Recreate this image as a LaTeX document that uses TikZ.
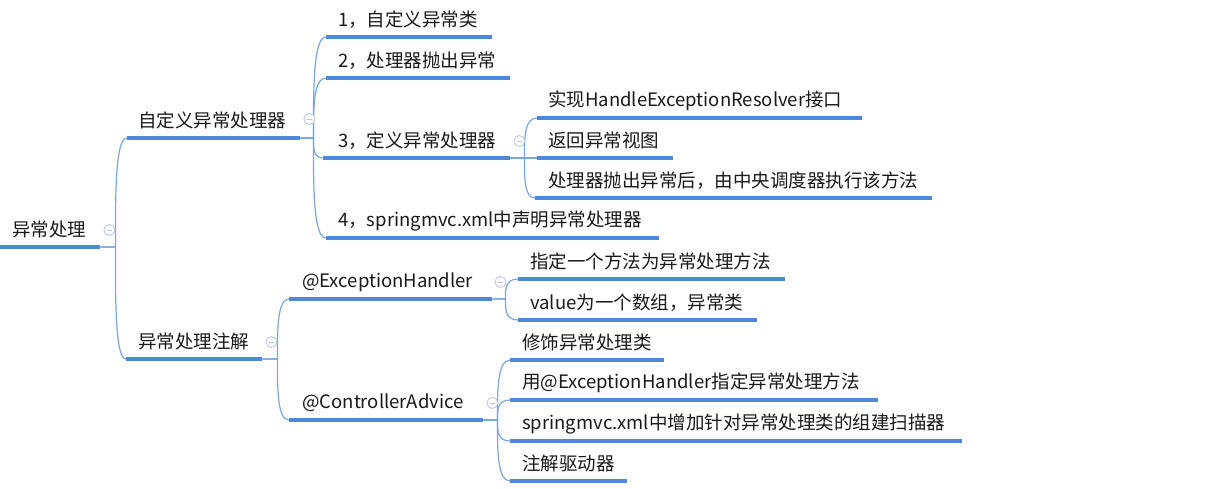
\documentclass[tikz,border=0pt]{standalone}
\usepackage{fontspec}
\setmainfont{Noto Sans CJK SC}
\usetikzlibrary{calc}
\definecolor{thickblue}{HTML}{4F88D6}
\definecolor{thinblue}{HTML}{7AA6E2}
\definecolor{txt}{HTML}{1A1A1A}
\definecolor{colgray}{HTML}{B9C3E0}
\tikzset{
 uline/.style={draw=thickblue, line width=3.2pt},
 topic/.style={anchor=south west, inner xsep=0pt, inner ysep=0pt, minimum height=34pt, align=left, text=txt,
   font=\fontsize{18.5}{21}\selectfont,
   append after command={(\tikzlastnode.south west) edge[uline] (\tikzlastnode.south east)}},
 conn/.style={draw=thinblue, line width=1.2pt},
 br/.style={to path={let \p1=(\tikztostart), \p2=(\tikztotarget) in -- ++(#1,0) .. controls (\x1+#1, {\y1+0.5*(\y2-\y1)}) and (\x1+#1,\y2) .. (\tikztotarget)}},
 collapse/.style={circle, draw=colgray, fill=white, line width=0.8pt, minimum size=11pt, inner sep=0pt,
   path picture={\draw[colgray, line width=0.8pt] ($(path picture bounding box.center)+(-2.5pt,0)$) -- ++(5pt,0);}},
}
\begin{document}
\begin{tikzpicture}[x=1pt,y=-1pt]
\useasboundingbox[fill=white] (0,0) rectangle (1223,489);
% nodes
\node[topic, text width=100pt] (root) at (0,247) {\hspace*{12pt}异常处理};
\node[topic, text width=173pt] (A) at (127,138) {\hspace*{11pt}自定义异常处理器};
\node[topic, text width=136pt] (B) at (126,359) {\hspace*{12pt}异常处理注解};
\node[topic, text width=166pt] (A1) at (326,37) {\hspace*{12pt}1，自定义异常类};
\node[topic, text width=184pt] (A2) at (326,78) {\hspace*{12pt}2，处理器抛出异常};
\node[topic, text width=187pt] (A3) at (323,158) {\hspace*{15pt}3，定义异常处理器};
\node[topic, text width=333pt] (A4) at (326,238) {\hspace*{12pt}4，springmvc.xml中声明异常处理器};
\node[topic, text width=325pt] (A31) at (537,118) {\hspace*{11pt}实现HandleExceptionResolver接口};
\node[topic, text width=136pt] (A32) at (537,158) {\hspace*{11pt}返回异常视图};
\node[topic, text width=397pt] (A33) at (535,198) {\hspace*{13pt}处理器抛出异常后，由中央调度器执行该方法};
\node[topic, text width=203pt] (B1) at (289,299) {\hspace*{13pt}@ExceptionHandler};
\node[topic, text width=194pt] (B2) at (289,420) {\hspace*{13pt}@ControllerAdvice};
\node[topic, text width=267pt] (B11) at (518,279) {\hspace*{12pt}指定一个方法为异常处理方法};
\node[topic, text width=239pt] (B12) at (518,320) {\hspace*{12pt}value为一个数组，异常类};
\node[topic, text width=154pt] (B21) at (510,360) {\hspace*{12pt}修饰异常处理类};
\node[topic, text width=368pt] (B22) at (510,400) {\hspace*{12pt}用@ExceptionHandler指定异常处理方法};
\node[topic, text width=452pt] (B23) at (510,441) {\hspace*{12pt}springmvc.xml中增加针对异常处理类的组建扫描器};
\node[topic, text width=117pt] (B24) at (510,481) {\hspace*{12pt}注解驱动器};
% connectors
\draw[conn] (root.south east) to[br=15pt] (A.south west);
\draw[conn] (root.south east) to[br=15pt] (B.south west);
\foreach \c in {A1,A2,A3,A4} \draw[conn] (A.south east) to[br=13pt] (\c.south west);
\foreach \c in {A31,A32,A33} \draw[conn] (A3.south east) to[br=14pt] (\c.south west);
\foreach \c in {B1,B2} \draw[conn] (B.south east) to[br=15pt] (\c.south west);
\foreach \c in {B11,B12} \draw[conn] (B1.south east) to[br=13pt] (\c.south west);
\foreach \c in {B21,B22,B23,B24} \draw[conn] (B2.south east) to[br=14pt] (\c.south west);
% collapse markers
\node[collapse] (c0) at ($(root.south east)+(9pt,17pt)$) {};
\node[collapse] (c1) at ($(A.south east)+(9pt,19pt)$) {};
\node[collapse] (c2) at ($(B.south east)+(9pt,17pt)$) {};
\node[collapse] (c3) at ($(A3.south east)+(9pt,17pt)$) {};
\node[collapse] (c4) at ($(B1.south east)+(8pt,17pt)$) {};
\node[collapse] (c5) at ($(B2.south east)+(9pt,17pt)$) {};
\end{tikzpicture}
\end{document}
